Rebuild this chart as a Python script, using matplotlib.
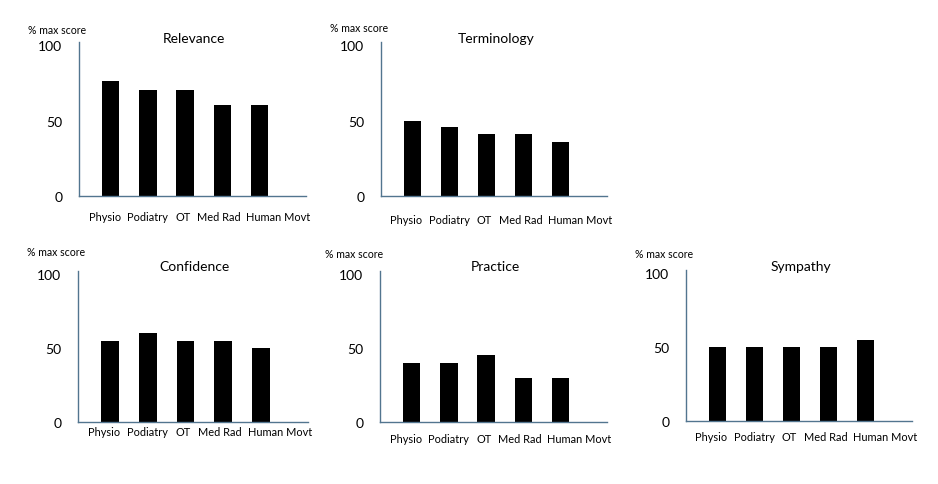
import matplotlib
matplotlib.use("Agg")
import matplotlib.pyplot as plt
import matplotlib.transforms as mtransforms

plt.rcParams['font.family'] = ['Lato', 'DejaVu Sans']

categories = ["Physio", "Podiatry", "OT", "Med Rad", "Human Movt"]
relevance = [76, 70, 70, 60, 60]
terminology = [50, 46, 41, 41, 36]
confidence = [55, 60, 55, 55, 50]
practice = [40, 40, 45, 30, 30]
sympathy = [50, 50, 50, 50, 55]
yticks = [0, 50, 100]
ylabel_text = "% max score"

W, H = 938, 485
fig = plt.figure(figsize=(W / 100, H / 100), dpi=100)

# (title, values, axes box l,r,t,b in px, label pos x,y px, title y px, x-label pad)
panels = [
    ("Relevance", relevance, (79, 306, 43, 197), (28, 31), 39, 11),
    ("Terminology", terminology, (381, 607, 43, 197), (330, 29), 39, 13),
    ("Confidence", confidence, (78, 308, 272, 423), (27, 253), 267, 3),
    ("Practice", practice, (380, 607, 272, 423), (325, 255), 267, 8),
    ("Sympathy", sympathy, (686, 912, 271, 422), (635, 255), 267, 7),
]
label_shift_px = [-6, 0, -2, -3, 19]

axis_color = "#52758f"

for title, vals, (l, r, t, b), (lx, ly), ty, xpad in panels:
    ax = fig.add_axes([l / W, 1 - b / H, (r - l) / W, (b - t) / H])
    x = list(range(len(categories)))
    ax.bar(x, vals, width=0.47, color="black")
    ax.set_xlim(-0.85, 5.25)
    ax.set_ylim(0, 102)
    for s in ["top", "right"]:
        ax.spines[s].set_visible(False)
    ax.spines["left"].set_color(axis_color)
    ax.spines["bottom"].set_color(axis_color)
    ax.spines["left"].set_linewidth(1.0)
    ax.spines["bottom"].set_linewidth(1.0)
    ax.set_yticks(yticks)
    ax.set_yticklabels([str(v) for v in yticks], fontsize=10)
    ax.set_xticks(x)
    ax.set_xticklabels(categories, fontsize=7.9)
    ax.tick_params(axis="both", length=0)
    ax.tick_params(axis="y", pad=12)
    ax.tick_params(axis="x", pad=xpad)
    for lbl, dx in zip(ax.get_xticklabels(), label_shift_px):
        lbl.set_transform(lbl.get_transform() + mtransforms.ScaledTranslation(dx / 100, 0, fig.dpi_scale_trans))
    fig.text((l + r) / 2 / W + 0.002, 1 - ty / H, title, fontsize=10, ha="center", va="center")
    fig.text(lx / W, 1 - ly / H, ylabel_text, fontsize=7.6, ha="left", va="center")

fig.savefig("out.png", dpi=100)
